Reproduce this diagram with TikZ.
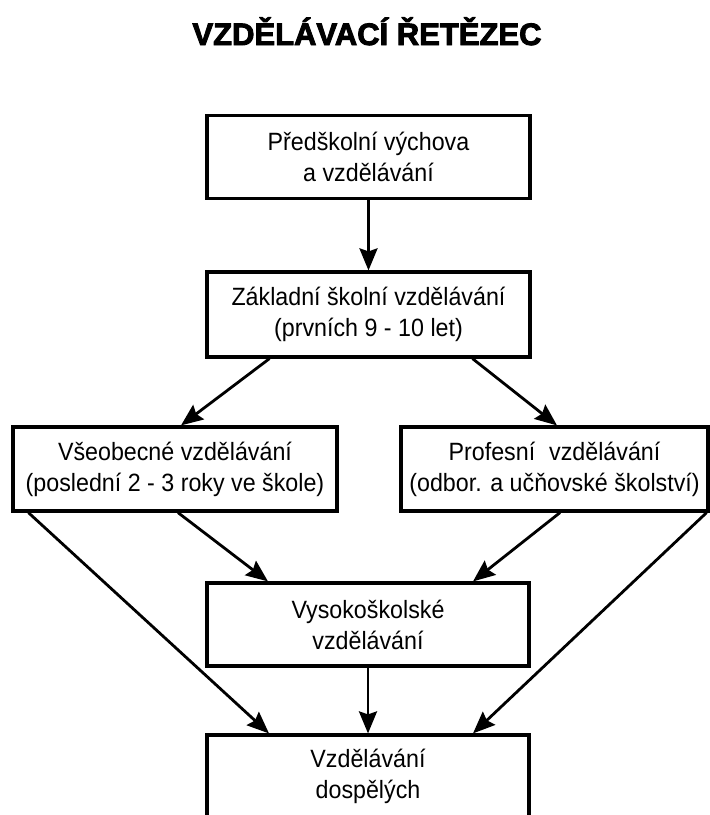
\documentclass[tikz,border=0pt]{standalone}
\usepackage{fontspec}
\setmainfont{Liberation Sans}[FakeStretch=0.93]
\newfontfamily\titlefont{Liberation Sans}[BoldFeatures={FakeBold=3}]
\usetikzlibrary{arrows.meta}
\tikzset{
  box/.style={draw=black, line width=3.2pt, fill=white, align=center, inner sep=0pt,
    font=\fontsize{25}{31}\selectfont},
  arr/.style={line width=2.8pt, -{Stealth[length=22pt,width=18pt,inset=3pt]}}
}
\begin{document}
\begin{tikzpicture}[x=1pt,y=-1pt]
\useasboundingbox (0,0) rectangle (710,815);
\clip (0,0) rectangle (710,815);
\fill[white] (0,0) rectangle (710,815);
\node[anchor=base, font={\titlefont\bfseries\fontsize{31}{34}\selectfont}] (title) at (367,45) {VZDĚLÁVACÍ ŘETĚZEC};
\node[box, minimum width=323pt, minimum height=83pt] (b1) at (368.5,157) {Předškolní výchova\\a vzdělávání};
\node[box, minimum width=323pt, minimum height=85pt] (b2) at (368.5,314.5) {Základní školní vzdělávání\\(prvních 9 - 10 let)};
\node[box, minimum width=324pt, minimum height=84pt] (b3) at (175,469) {Všeobecné vzdělávání\\(poslední 2 - 3 roky ve škole)};
\node[box, minimum width=307pt, minimum height=84pt] (b4) at (554.5,469) {Profesní\hspace{0.3em} vzdělávání\\(odbor. a učňovské školství)};
\node[box, minimum width=322pt, minimum height=83pt] (b5) at (368,624.5) {Vysokoškolské\\vzdělávání};
\node[box, minimum width=322pt, minimum height=82pt] (b6) at (368,776) {Vzdělávání\\dospělých};
\draw[arr] (b1.south) -- (b2.north);
\draw[arr] ([xshift=-99pt]b2.south) -- ([xshift=6pt]b3.north);
\draw[arr] ([xshift=104pt]b2.south) -- ([xshift=2.5pt]b4.north);
\draw[arr] ([xshift=3pt]b3.south) -- ([xshift=-100pt]b5.north);
\draw[arr] ([xshift=5.5pt]b4.south) -- ([xshift=105pt]b5.north);
\draw[arr] ([xshift=17pt]b3.south west) -- ([xshift=-99pt]b6.north);
\draw[arr] ([xshift=-3pt]b4.south east) -- ([xshift=105pt]b6.north);
\draw[arr] (b5.south) -- (b6.north);
\end{tikzpicture}
\end{document}
